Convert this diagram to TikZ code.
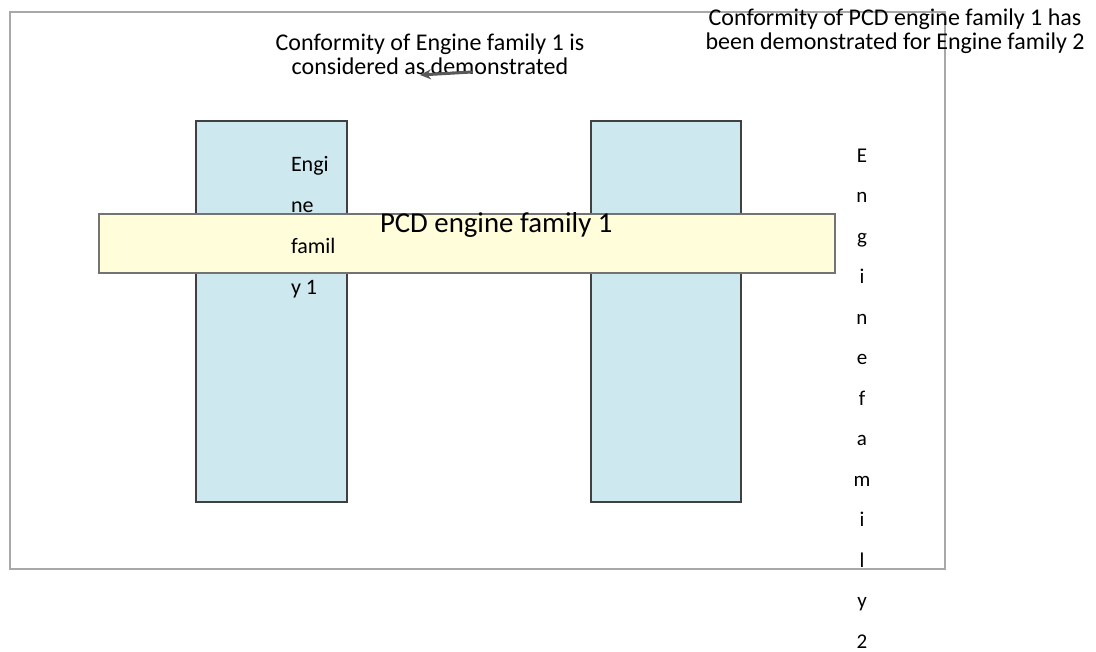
\documentclass[tikz,border=0pt]{standalone}
\usepackage{fontspec}
\setmainfont{Carlito}
\usetikzlibrary{arrows.meta}
\definecolor{famblue}{HTML}{CDE8EE}
\definecolor{pcdyellow}{HTML}{FFFDDA}
\definecolor{framegray}{HTML}{A8A8A8}
\begin{document}
\begin{tikzpicture}[x=1pt,y=-1pt,
  every node/.style={inner sep=0pt, outer sep=0pt},
  frame/.style={draw=framegray, line width=2.5pt, anchor=north west},
  famrect/.style={draw=black!75, fill=famblue, line width=1.1pt, anchor=north west},
  pcdrect/.style={draw=black!55, fill=pcdyellow, line width=1.4pt, anchor=north west},
  note/.style={font=\fontsize{24}{24.5}\selectfont, align=center},
  famlabel/.style={font=\fontsize{22}{41}\selectfont, align=left},
  vlabel/.style={font=\fontsize{21}{40.5}\selectfont, align=center},
  pcdlabel/.style={font=\fontsize{28.8}{30}\selectfont},
  flowarrow/.style={-{Stealth[length=11pt,width=10pt]}, line width=3pt, black!65}
]
\useasboundingbox (0,0) rectangle (1096,652);
\node[frame, minimum width=935, minimum height=557] (outer) at (10,12) {};
\node[famrect, minimum width=151, minimum height=381] (ef1box) at (196,121) {};
\node[famrect, minimum width=150, minimum height=381] (ef2box) at (591,121) {};
\node[pcdrect, minimum width=736, minimum height=59] (pcd) at (99,214) {};
\node[pcdlabel, anchor=base west] (pcdtext) at (380,233) {PCD engine family 1};
\node[famlabel, anchor=base west] (ef1text) at (291,295) {Engi\\ne\\famil\\y 1};
\node[vlabel, anchor=base] (ef2text) at (862,648) {E\\n\\g\\i\\n\\e\\f\\a\\m\\i\\l\\y\\2};
\node[note, anchor=base] (note1) at (430,75) {Conformity of Engine family 1 is\\considered as demonstrated};
\node[note, anchor=base] (note2) at (895,50) {Conformity of PCD engine family 1 has\\been demonstrated for Engine family 2};
\coordinate (arrtail) at (472,72);
\coordinate (arrhead) at (420,75);
\draw[flowarrow] (arrtail) -- (arrhead);
\end{tikzpicture}
\end{document}
